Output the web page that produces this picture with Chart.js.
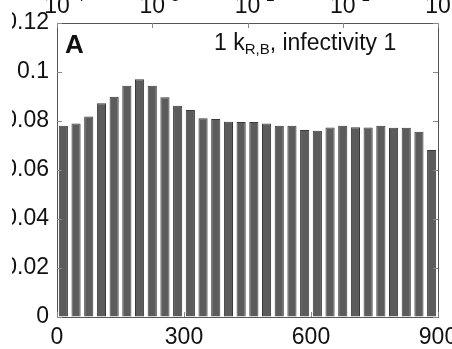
<!DOCTYPE html>
<html>
<head>
<meta charset="utf-8">
<script src="https://cdn.jsdelivr.net/npm/chart.js@4/dist/chart.umd.min.js"></script>
<style>
  html, body { margin: 0; padding: 0; background: #fff; }
  #page { position: relative; width: 452px; height: 349px; overflow: hidden; background: #fff; }
  /* the figure is a crop: a white strip on the left cuts off the first digits */
  #wrap { position: absolute; left: 12px; top: 0; width: 440px; height: 349px; overflow: hidden; }
  #wrap canvas { position: absolute; left: -26px; top: -8px; }
</style>
</head>
<body>
<div id="page"><div id="wrap"><canvas id="chart" width="480" height="362"></canvas></div></div>
<script>
// bin centres (time) and the fraction in each bin
const binCenters = [15, 45, 75, 105, 135, 165, 195, 225, 255, 285,
  315, 345, 375, 405, 435, 465, 495, 525, 555, 585,
  615, 645, 675, 705, 735, 765, 795, 825, 855, 885];
const fraction = [0.0781, 0.0790, 0.0818, 0.0872, 0.0899, 0.0944, 0.0970, 0.0944, 0.0897, 0.0862,
  0.0845, 0.0811, 0.0808, 0.0797, 0.0796, 0.0796, 0.0790, 0.0781, 0.0781, 0.0763,
  0.0760, 0.0773, 0.0781, 0.0774, 0.0773, 0.0781, 0.0772, 0.0772, 0.0756, 0.0682];
const xTicks = [0, 300, 600, 900];
const topDecades = [1e-4, 1e-3, 1e-2, 1e-1, 1];
const panelLetter = "A";
const panelNote = ["1 k", "R,B", ", infectivity 1"];

const FONT = "'Liberation Sans', Arial, sans-serif";

// small inward tick marks on all four sides
const innerTicks = {
  id: "innerTicks",
  afterDraw(chart) {
    const { ctx, chartArea: a, scales } = chart;
    const len = 5;
    ctx.save();
    ctx.strokeStyle = "#888";
    ctx.lineWidth = 1;
    ctx.beginPath();
    scales.y.ticks.forEach((t) => {
      const py = Math.round(scales.y.getPixelForValue(t.value)) + 0.5;
      ctx.moveTo(a.left, py); ctx.lineTo(a.left + len, py);
      ctx.moveTo(a.right, py); ctx.lineTo(a.right - len, py);
    });
    scales.x.ticks.forEach((t) => {
      const px = Math.round(scales.x.getPixelForValue(t.value)) + 0.5;
      ctx.moveTo(px, a.bottom); ctx.lineTo(px, a.bottom - len);
    });
    scales.x2.ticks.forEach((t) => {
      const px = Math.round(scales.x2.getPixelForValue(t.value)) + 0.5;
      ctx.moveTo(px, a.top); ctx.lineTo(px, a.top + len);
    });
    ctx.stroke();
    ctx.restore();
  },
};

// exponents of the top axis labels (mostly cut off by the crop)
const topExponents = {
  id: "topExponents",
  afterDraw(chart) {
    const { ctx, chartArea: a, scales } = chart;
    ctx.save();
    ctx.fillStyle = "#111";
    ctx.font = "23px " + FONT;
    const half = ctx.measureText("10").width / 2;
    ctx.font = "15px " + FONT;
    ctx.textBaseline = "alphabetic";
    scales.x2.ticks.forEach((t) => {
      const px = scales.x2.getPixelForValue(t.value);
      ctx.fillText(String(Math.round(Math.log10(t.value))), px + half + 1, a.top - 22);
    });
    ctx.restore();
  },
};

// panel letter and note inside the plot
const panelText = {
  id: "panelText",
  afterDraw(chart) {
    const { ctx, chartArea: a } = chart;
    ctx.save();
    ctx.fillStyle = "#111";
    ctx.textBaseline = "alphabetic";
    ctx.font = "bold 26px " + FONT;
    ctx.fillText(panelLetter, a.left + 8, a.top + 30);

    let x = a.left + 157;
    const y = a.top + 27;
    ctx.font = "23px " + FONT;
    ctx.fillText(panelNote[0], x, y);
    x += ctx.measureText(panelNote[0]).width;
    ctx.font = "15px " + FONT;
    ctx.fillText(panelNote[1], x, y + 4);
    x += ctx.measureText(panelNote[1]).width;
    ctx.font = "23px " + FONT;
    ctx.fillText(panelNote[2], x, y);
    ctx.restore();
  },
};

const border = { display: true, color: "#555", width: 1 };
const noGrid = { display: true, drawOnChartArea: false, drawTicks: false };
const tickFont = { family: FONT, size: 23 };

const ctx = document.getElementById("chart").getContext("2d");

const chart = new Chart(ctx, {
  type: "bar",
  data: {
    datasets: [
      {
        data: binCenters.map((x, i) => ({ x, y: fraction[i] })),
        backgroundColor: "#5c5c5c",
        borderColor: "#393939",
        borderWidth: 1,
        barPercentage: 0.72,
        categoryPercentage: 1,
      },
    ],
  },
  options: {
    responsive: false,
    animation: false,
    layout: { padding: 0 },
    plugins: { legend: { display: false }, tooltip: { enabled: false } },
    scales: {
      x: {
        type: "linear",
        position: "bottom",
        min: 0,
        max: 900,
        offset: false,
        grid: { ...noGrid, offset: false },
        border,
        afterBuildTicks: (s) => { s.ticks = xTicks.map((v) => ({ value: v })); },
        afterFit: (s) => { s.height = 37; },
        ticks: { color: "#111", font: tickFont, padding: 7, maxRotation: 0 },
      },
      x2: {
        type: "logarithmic",
        position: "top",
        min: 1e-4,
        max: 1,
        grid: noGrid,
        border,
        afterBuildTicks: (s) => { s.ticks = topDecades.map((v) => ({ value: v })); },
        afterFit: (s) => { s.height = 31; },
        ticks: { color: "#111", font: tickFont, padding: 3, maxRotation: 0, callback: () => "10" },
      },
      y: {
        position: "left",
        min: 0,
        max: 0.12,
        grid: noGrid,
        border,
        afterFit: (s) => { s.width = 71; },
        ticks: {
          stepSize: 0.02,
          color: "#111",
          font: tickFont,
          padding: 8,
          callback: (v) => String(+v.toFixed(2)),
        },
      },
      y2: {
        position: "right",
        min: 0,
        max: 0.12,
        grid: noGrid,
        border,
        afterFit: (s) => { s.width = 28; },
        ticks: { display: false, stepSize: 0.02 },
      },
    },
  },
  plugins: [innerTicks, topExponents, panelText],
});
</script>
</body>
</html>
